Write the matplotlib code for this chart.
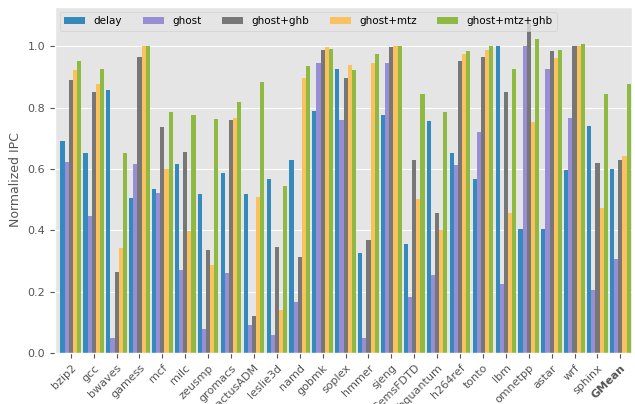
import numpy as np
import matplotlib
matplotlib.use("Agg")
import matplotlib.pyplot as plt

plt.style.use("ggplot")

benchmarks = ["bzip2", "gcc", "bwaves", "gamess", "mcf", "milc", "zeusmp", "gromacs",
              "cactusADM", "leslie3d", "namd", "gobmk", "soplex", "hmmer", "sjeng",
              "GemsFDTD", "libquantum", "h264ref", "tonto", "lbm", "omnetpp", "astar",
              "wrf", "sphinx", "GMean"]

delay = [0.690, 0.651, 0.857, 0.505, 0.534, 0.616, 0.518, 0.586, 0.518, 0.567, 0.629,
         0.788, 0.925, 0.326, 0.775, 0.355, 0.756, 0.651, 0.567, 1.003, 0.404, 0.404,
         0.596, 0.739, 0.599]
ghost = [0.622, 0.446, 0.049, 0.616, 0.521, 0.270, 0.078, 0.261, 0.091, 0.059, 0.166,
         0.945, 0.759, 0.049, 0.945, 0.182, 0.254, 0.612, 0.720, 0.225, 1.000, 0.928,
         0.765, 0.205, 0.306]
ghost_ghb = [0.892, 0.850, 0.264, 0.967, 0.736, 0.655, 0.336, 0.759, 0.120, 0.345, 0.313,
             0.987, 0.896, 0.368, 0.997, 0.629, 0.456, 0.951, 0.964, 0.850, 1.075, 0.984,
             1.000, 0.619, 0.629]
ghost_mtz = [0.922, 0.879, 0.342, 1.000, 0.599, 0.397, 0.287, 0.765, 0.508, 0.140, 0.896,
             0.997, 0.938, 0.945, 1.003, 0.502, 0.401, 0.974, 0.987, 0.456, 0.752, 0.961,
             1.000, 0.472, 0.642]
ghost_mtz_ghb = [0.954, 0.928, 0.651, 1.003, 0.785, 0.775, 0.762, 0.818, 0.883, 0.544, 0.935,
                 0.993, 0.922, 0.974, 1.000, 0.844, 0.785, 0.984, 1.003, 0.925, 1.023, 0.987,
                 1.007, 0.844, 0.879]

series = [("delay", delay), ("ghost", ghost), ("ghost+ghb", ghost_ghb),
          ("ghost+mtz", ghost_mtz), ("ghost+mtz+ghb", ghost_mtz_ghb)]
colors = ["#348ABD", "#988ED5", "#777777", "#FBC15E", "#8EBA42"]

fig = plt.figure(figsize=(6.35, 4.04), dpi=100)
ax = fig.add_axes([0.0866, 0.1262, 0.9087, 0.8565])

x = np.arange(len(benchmarks))
width = 0.18
for i, ((label, vals), color) in enumerate(zip(series, colors)):
    ax.bar(x + (i - 2) * width, vals, width, label=label, color=color)

ax.set_xlim(-0.69, 24.51)
ax.set_xticks(x)
ax.set_xticklabels(benchmarks, rotation=45, ha="right", rotation_mode="anchor", fontsize=8)
ax.get_xticklabels()[-1].set_fontweight("bold")
ax.tick_params(axis="y", labelsize=8)
ax.grid(axis="x", visible=False)
ax.set_ylabel("Normalized IPC", fontsize=9)

ax.legend(loc="upper left", ncol=5, fontsize=7.5, handlelength=2.0,
          columnspacing=2.0, bbox_to_anchor=(0.0, 1.0))

fig.savefig("out.png", dpi=100)
